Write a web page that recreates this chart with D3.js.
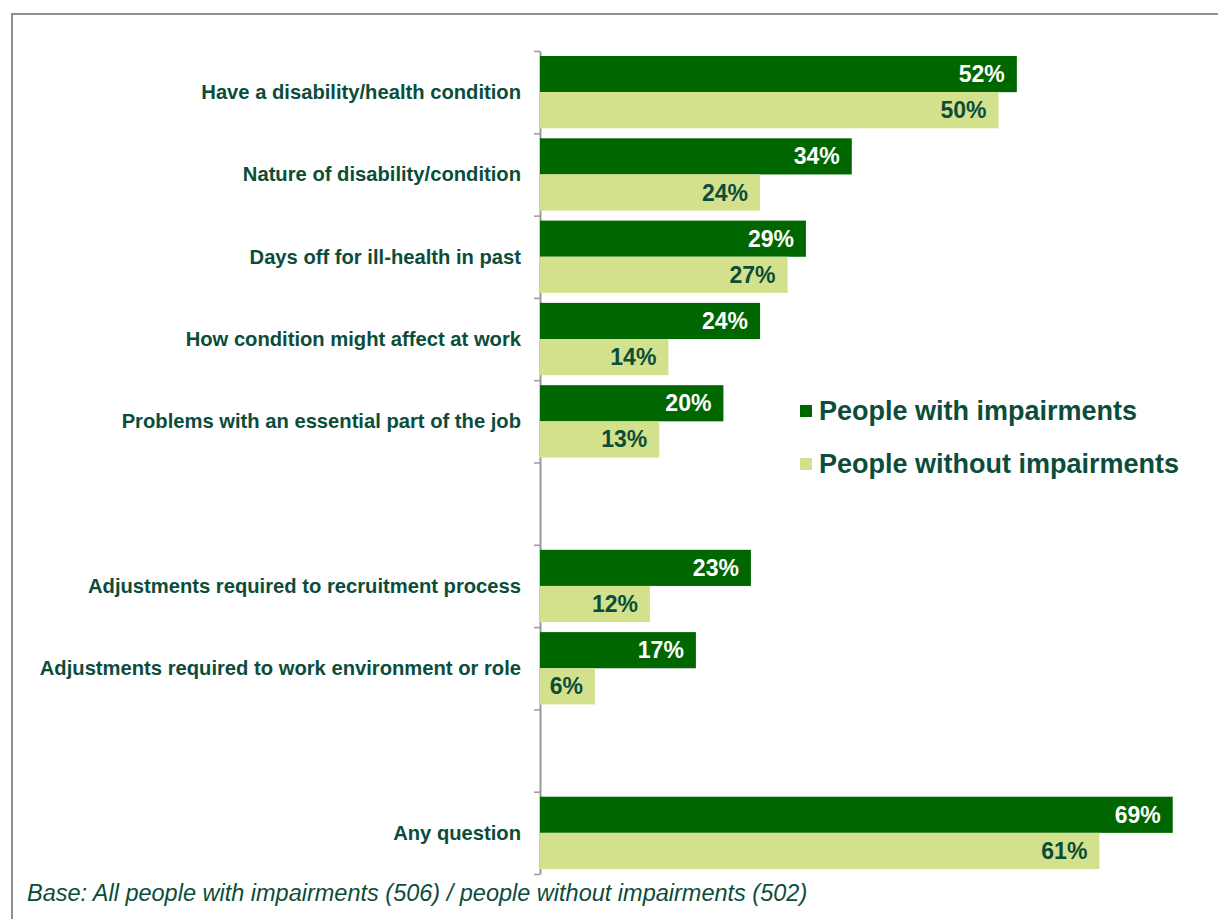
<!DOCTYPE html>
<html>
<head>
<meta charset="utf-8">
<script src="https://cdn.jsdelivr.net/npm/d3@7"></script>
<style>
  html, body { margin: 0; padding: 0; background: #ffffff; }
  svg { display: block; }
  text { font-family: "Liberation Sans", Arial, sans-serif; }
</style>
</head>
<body>
<svg id="chart" width="1218" height="919"></svg>
<script>
// Questions asked of job applicants (blank strings leave a gap between groups)
const categories = [
  "Have a disability/health condition",
  "Nature of disability/condition",
  "Days off for ill-health in past",
  "How condition might affect at work",
  "Problems with an essential part of the job",
  "",
  "Adjustments required to recruitment process",
  "Adjustments required to work environment or role",
  "",
  "Any question"
];
const seriesNames = ["People with impairments", "People without impairments"];
const withImpairments    = [52, 34, 29, 24, 20, null, 23, 17, null, 69];
const withoutImpairments = [50, 24, 27, 14, 13, null, 12, 6, null, 61];
const footnote = "Base: All people with impairments (506) / people without impairments (502)";

const colors = ["#006600", "#d4e18c"];
const labelColors = ["#ffffff", "#0b4d3a"];
const textColor = "#0b4d3a";

const svg = d3.select("#chart");

// Frame line along the top and left edges
svg.append("path")
  .attr("d", "M12,919 V14 H1218")
  .attr("fill", "none")
  .attr("stroke", "#8f8f8f")
  .attr("stroke-width", 2);

const axisX = 540, plotTop = 51, plotBottom = 874;
const slotKeys = categories.map((c, i) => i);

const x = d3.scaleLinear().domain([0, 100]).range([axisX, axisX + 917]);
const y = d3.scaleBand().domain(slotKeys).range([plotTop, plotBottom]).padding(0);
const ySub = d3.scaleBand().domain([0, 1]).range([5, y.bandwidth() - 5]).padding(0);

// Slot boundaries for the axis ticks
const yEdge = d3.scaleLinear().domain([0, categories.length]).range([plotTop, plotBottom]);
const axis = d3.axisLeft(yEdge)
  .tickValues(d3.range(categories.length + 1))
  .tickFormat("")
  .tickSize(6)
  .tickSizeOuter(0);
const gAxis = svg.append("g")
  .attr("transform", `translate(${axisX},0)`)
  .call(axis);
gAxis.select(".domain").attr("stroke", "#999999").attr("stroke-width", 2);
gAxis.selectAll(".tick line").attr("stroke", "#999999").attr("stroke-width", 1.5);

const rows = [];
categories.forEach((c, i) => {
  [withImpairments[i], withoutImpairments[i]].forEach((v, s) => {
    if (v !== null) rows.push({ i, s, v });
  });
});

// Bars
svg.append("g").selectAll("rect")
  .data(rows)
  .join("rect")
  .attr("x", x(0))
  .attr("y", d => y(d.i) + ySub(d.s))
  .attr("width", d => x(d.v) - x(0))
  .attr("height", ySub.bandwidth())
  .attr("fill", d => colors[d.s]);

// Value labels inside the bar ends
svg.append("g").selectAll("text")
  .data(rows)
  .join("text")
  .attr("x", d => x(d.v) - 12)
  .attr("y", d => y(d.i) + ySub(d.s) + ySub.bandwidth() / 2)
  .attr("text-anchor", "end")
  .attr("dominant-baseline", "central")
  .attr("font-size", 23)
  .attr("font-weight", "bold")
  .attr("fill", d => labelColors[d.s])
  .text(d => d.v + "%");

// Category labels
svg.append("g").selectAll("text")
  .data(categories.map((c, i) => ({ c, i })).filter(d => d.c))
  .join("text")
  .attr("x", 521)
  .attr("y", d => y(d.i) + y.bandwidth() / 2)
  .attr("text-anchor", "end")
  .attr("dominant-baseline", "central")
  .attr("font-size", 20.2)
  .attr("font-weight", "bold")
  .attr("fill", textColor)
  .text(d => d.c);

// Legend
const legend = svg.append("g").selectAll("g")
  .data(seriesNames)
  .join("g")
  .attr("transform", (d, i) => `translate(800,${411 + i * 53})`);
legend.append("rect")
  .attr("x", 0).attr("y", -6)
  .attr("width", 12).attr("height", 12)
  .attr("fill", (d, i) => colors[i]);
legend.append("text")
  .attr("x", 19)
  .attr("y", 0)
  .attr("dominant-baseline", "central")
  .attr("font-size", 27)
  .attr("font-weight", "bold")
  .attr("fill", textColor)
  .text(d => d);

// Base note
svg.append("text")
  .attr("x", 27)
  .attr("y", 901)
  .attr("font-size", 23.5)
  .attr("font-style", "italic")
  .attr("fill", textColor)
  .text(footnote);
</script>
</body>
</html>
